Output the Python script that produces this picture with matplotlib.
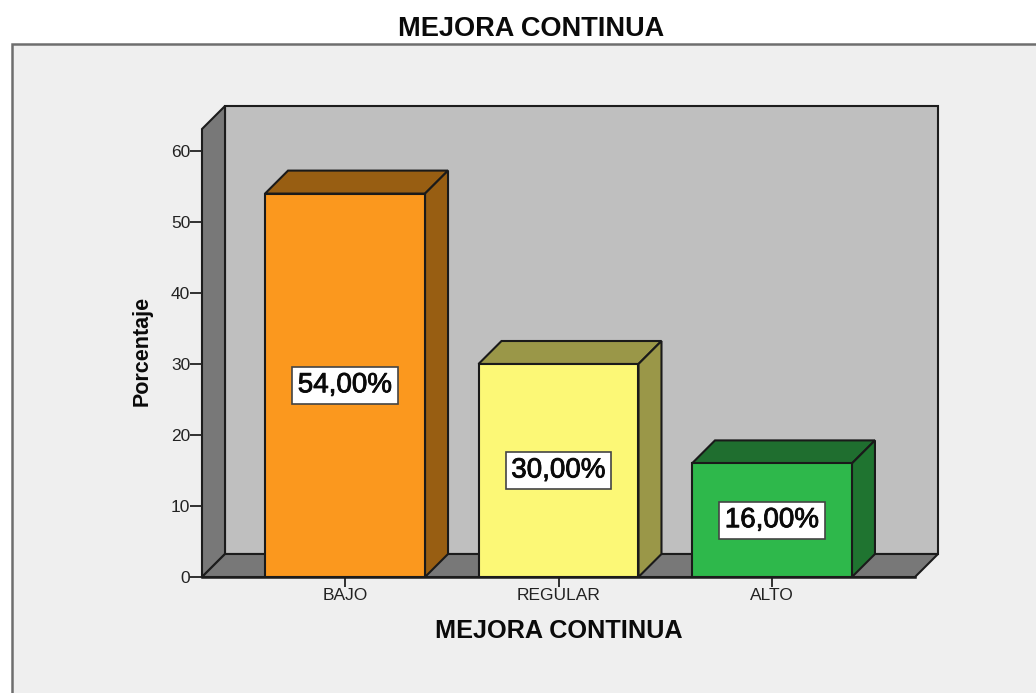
import matplotlib
matplotlib.use('Agg')
import matplotlib.pyplot as plt
import matplotlib.patheffects as pe
from matplotlib.patches import Polygon, Rectangle

plt.rcParams['font.family'] = ['Liberation Sans', 'DejaVu Sans']

categories = ['BAJO', 'REGULAR', 'ALTO']
values = [54, 30, 16]
value_labels = ['54,00%', '30,00%', '16,00%']
y_ticks = [0, 10, 20, 30, 40, 50, 60]

front_colors = ['#fb981e', '#fcf876', '#2eb84b']
top_colors = ['#985e12', '#9a9748', '#1f6e2f']
side_colors = ['#985e12', '#9a9748', '#1f7430']

W, H = 1036, 693
fig = plt.figure(figsize=(W / 100, H / 100), dpi=100, facecolor='white')

# grey panel behind the chart, runs off the right and bottom
fig.add_artist(Rectangle((12 / W, -0.05), 1.05, (H - 44) / H + 0.05, transform=fig.transFigure,
                         facecolor='#efefef', edgecolor='#6e6e6e', linewidth=1.8, zorder=-1))

# axes = front plane of the 3d box
left, right, y0, y60 = 202, 915, 577, 151
y_top = 60 * (y0 - 129) / (y0 - y60)
ax = fig.add_axes([left / W, (H - y0) / H, (right - left) / W, (y0 - 129) / H])
ax.set_xlim(-0.67, 2.67)
ax.set_ylim(0, y_top)
ax.patch.set_visible(False)
for s in ax.spines.values():
    s.set_visible(False)

# depth of the box in data units
dx = 23 / 213.5
dy = 23 / ((y0 - y60) / 60)
xa, xb = ax.get_xlim()
edge = '#1c1c1c'

ax.add_patch(Polygon([(xa + dx, dy), (xb + dx, dy), (xb + dx, y_top + dy), (xa + dx, y_top + dy)],
                     facecolor='#bfbfbf', edgecolor=edge, linewidth=1.5, clip_on=False, zorder=1))
ax.add_patch(Polygon([(xa, 0), (xa + dx, dy), (xa + dx, y_top + dy), (xa, y_top)],
                     facecolor='#787878', edgecolor=edge, linewidth=1.5, clip_on=False, zorder=1.5))
ax.add_patch(Polygon([(xa, 0), (xb, 0), (xb + dx, dy), (xa + dx, dy)],
                     facecolor='#787878', edgecolor=edge, linewidth=1.5, clip_on=False, zorder=1.5))

bar_w = 160 / 213.5
xs = range(len(categories))
ax.bar(xs, values, width=bar_w, color=front_colors, edgecolor='#1a1a1a', linewidth=1.5, zorder=3)
for x, v, tc, sc, lab in zip(xs, values, top_colors, side_colors, value_labels):
    x1, x2 = x - bar_w / 2, x + bar_w / 2
    ax.add_patch(Polygon([(x1, v), (x2, v), (x2 + dx, v + dy), (x1 + dx, v + dy)],
                         facecolor=tc, edgecolor='#1a1a1a', linewidth=1.5, clip_on=False, zorder=2.5))
    ax.add_patch(Polygon([(x2, 0), (x2 + dx, dy), (x2 + dx, v + dy), (x2, v)],
                         facecolor=sc, edgecolor='#1a1a1a', linewidth=1.5, clip_on=False, zorder=2.5))
    ax.text(x, v / 2, lab, ha='center', va='center', fontsize=20, color='#0a0a0a', zorder=5,
            path_effects=[pe.withStroke(linewidth=0.6, foreground='#0a0a0a')],
            bbox=dict(boxstyle='square,pad=0.2', facecolor='white', edgecolor='#444444', linewidth=1.2))

ax.set_yticks(y_ticks)
ax.set_xticks(list(xs))
ax.set_xticklabels(categories)
ax.tick_params(axis='y', length=8.5, width=1.3, color='#222222', labelsize=12.5, labelcolor='#222222', pad=0)
ax.tick_params(axis='x', length=7, width=1.3, color='#222222', labelsize=12.5, labelcolor='#222222', pad=1)

ax.plot([xa, xb], [0, 0], color=edge, linewidth=1.8, zorder=4, clip_on=False)

fig.text(531 / W, (H - 29) / H, 'MEJORA CONTINUA', ha='center', va='center', fontsize=19.5,
         fontweight='bold', color='#0a0a0a')
fig.text(559 / W, (H - 631) / H, 'MEJORA CONTINUA', ha='center', va='center', fontsize=18.2,
         fontweight='bold', color='#0a0a0a')
fig.text(142 / W, (H - 351) / H, 'Porcentaje', ha='center', va='center', rotation=90, fontsize=15.5,
         fontweight='bold', color='#0a0a0a')

fig.savefig('out.png', dpi=100, facecolor='white')
